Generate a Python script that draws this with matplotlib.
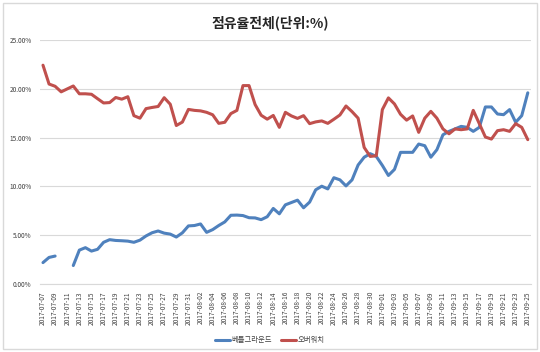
import numpy as np
import pandas as pd
import matplotlib
matplotlib.use('Agg')
import matplotlib.pyplot as plt
from matplotlib.ticker import PercentFormatter

plt.rcParams['font.family'] = ['Noto Sans CJK KR', 'DejaVu Sans']

# daily categories
dates = pd.date_range('2017-07-07', '2017-09-25', freq='D')
date_labels = [d.strftime('%Y-%m-%d') for d in dates]

# share values in percent
battleground = [2.2, 2.73, 2.87, np.nan, np.nan, 1.9, 3.48, 3.73, 3.38, 3.56,
                4.28, 4.55, 4.47, 4.44, 4.4, 4.28, 4.5, 4.93, 5.26, 5.44,
                5.22, 5.12, 4.82, 5.25, 5.96, 6.0, 6.16, 5.3, 5.58, 6.0,
                6.37, 7.05, 7.07, 7.02, 6.8, 6.78, 6.6, 6.9, 7.75, 7.2,
                8.12, 8.36, 8.6, 7.82, 8.4, 9.66, 10.03, 9.75, 10.9, 10.68,
                10.06, 10.68, 12.2, 13.0, 13.36, 13.08, 12.16, 11.13, 11.75, 13.5,
                13.5, 13.5, 14.35, 14.18, 13.0, 13.77, 15.3, 15.65, 15.9, 16.16,
                16.06, 15.65, 16.06, 18.15, 18.15, 17.43, 17.36, 17.88, 16.58, 17.26,
                19.6]
overwatch = [22.43, 20.5, 20.27, 19.7, 20.0, 20.3, 19.5, 19.5, 19.45, 19.0,
             18.56, 18.6, 19.12, 18.95, 19.2, 17.26, 17.0, 17.98, 18.1, 18.2,
             19.1, 18.43, 16.25, 16.6, 17.9, 17.8, 17.75, 17.6, 17.35, 16.47,
             16.58, 17.47, 17.8, 20.34, 20.34, 18.4, 17.3, 16.9, 17.28, 16.06,
             17.6, 17.23, 16.98, 17.26, 16.44, 16.62, 16.72, 16.47, 16.89, 17.33,
             18.25, 17.67, 17.0, 14.0, 13.08, 13.15, 17.88, 19.08, 18.46, 17.4,
             16.8, 17.23, 15.55, 17.0, 17.7, 17.0, 15.9, 15.4, 15.9, 15.82,
             15.9, 17.8, 16.44, 15.07, 14.86, 15.72, 15.82, 15.65, 16.44, 16.06,
             14.8]

x = np.arange(len(dates))

fig = plt.figure(figsize=(5.4, 3.52), dpi=100)
ax = fig.add_axes([0.074, 0.193, 0.909, 0.693])

ax.plot(x, battleground, color='#4F81BD', lw=2.2, label='베틀그라운드',
        solid_joinstyle='round', solid_capstyle='round')
ax.plot(x, overwatch, color='#C0504D', lw=2.2, label='오버워치',
        solid_joinstyle='round', solid_capstyle='round')

ax.set_xlim(-0.5, len(dates) - 0.5)
ax.set_ylim(0, 25)
ax.set_yticks(np.arange(0, 26, 5))
ax.yaxis.set_major_formatter(PercentFormatter(decimals=2))
ax.set_xticks(x[::2])
ax.set_xticklabels(date_labels[::2], rotation=90)

ax.grid(axis='y', color='#d9d9d9', lw=0.8)
ax.set_axisbelow(True)
for s in ['top', 'right', 'left']:
    ax.spines[s].set_visible(False)
ax.spines['bottom'].set_color('#d9d9d9')
ax.spines['bottom'].set_linewidth(0.8)
ax.tick_params(axis='both', length=0, labelsize=4.7, colors='#404040')
ax.tick_params(axis='x', pad=5)
ax.tick_params(axis='y', pad=6)

fig.suptitle('점유율전체(단위:%)', x=0.5, y=0.955, fontsize=10, fontweight='bold',
             color='#262626')

fig.legend(loc='center', bbox_to_anchor=(0.5, 0.033), ncol=2, frameon=False,
           fontsize=5.3, handlelength=2.0, handletextpad=0.3, columnspacing=1.2,
           labelcolor='#404040')

# outer chart border
fig.patches.append(plt.Rectangle((0.006, 0.009), 0.988, 0.982, transform=fig.transFigure,
                                 fill=False, edgecolor='#d9d9d9', lw=1))

fig.savefig('out.png', dpi=100)
